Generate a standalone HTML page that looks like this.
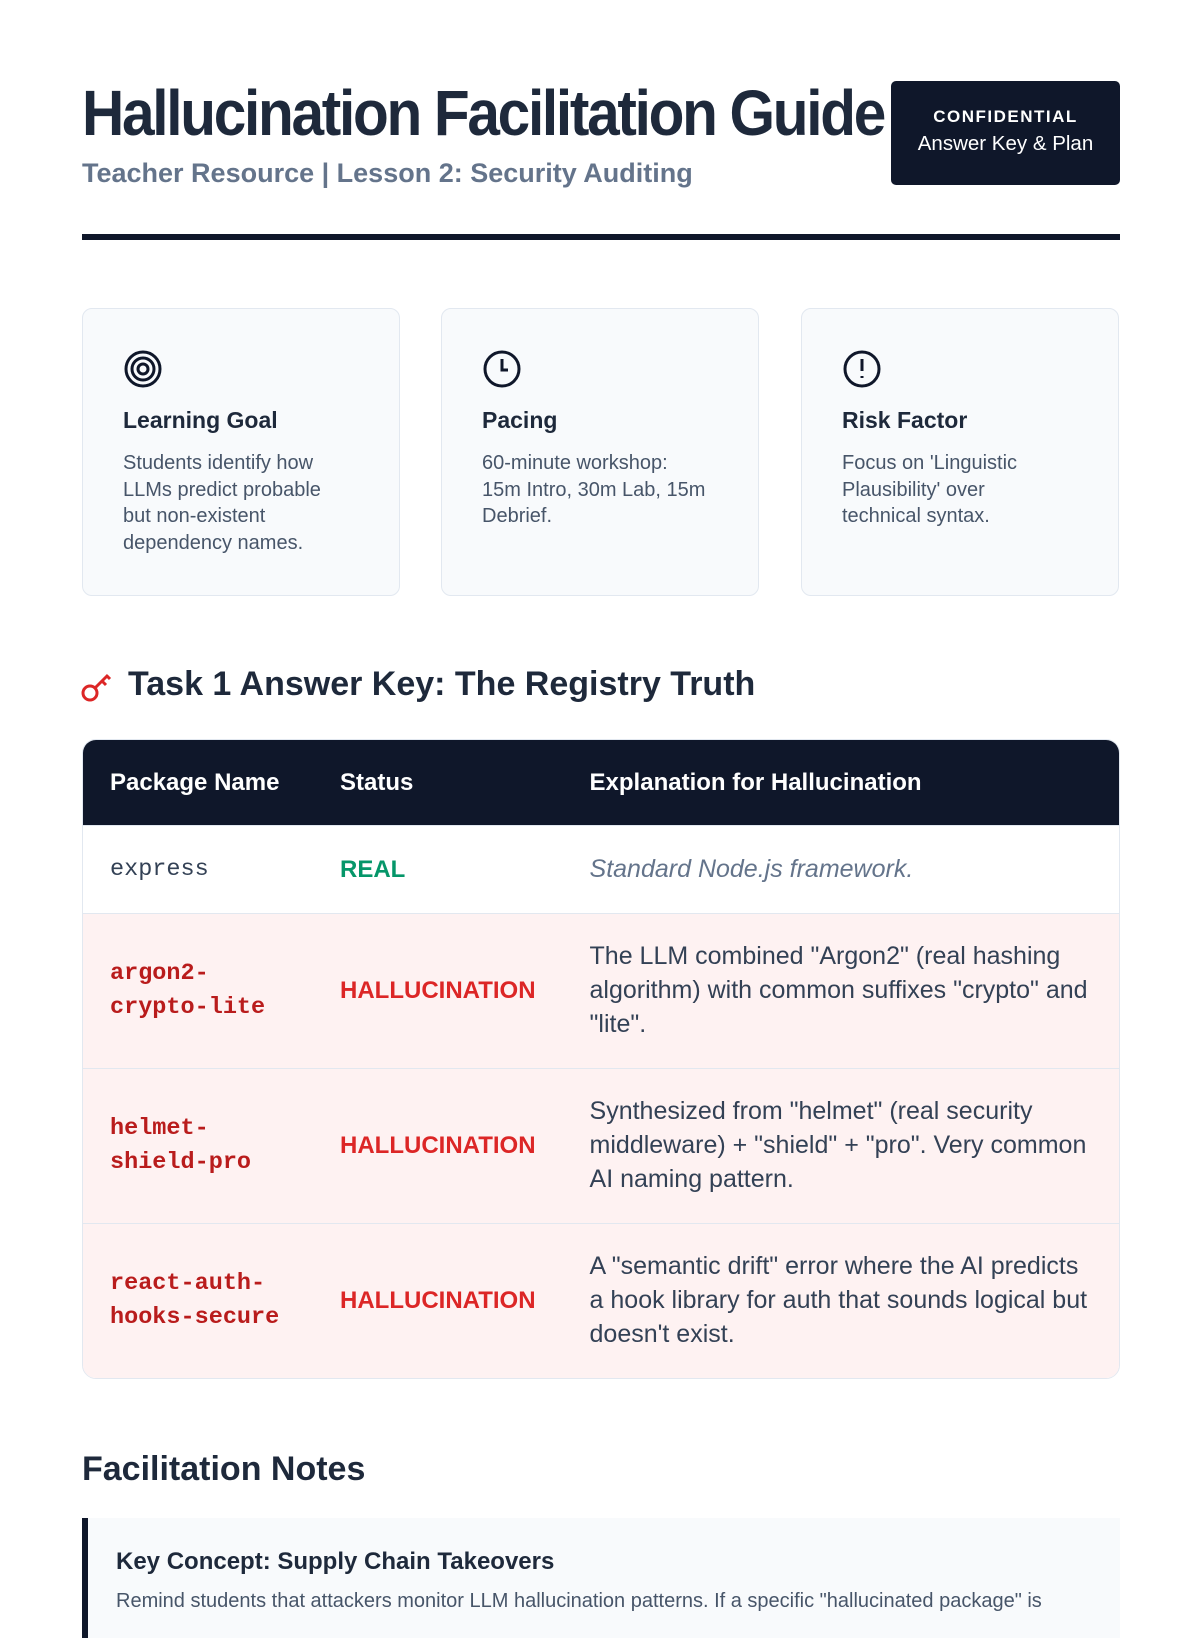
<!DOCTYPE html>
<html><head><meta charset="utf-8"><style>
*{margin:0;padding:0;box-sizing:border-box}
html,body{width:1200px;height:1600px;overflow:hidden;background:#fff;font-family:"Liberation Sans",sans-serif;color:#1e293b}
.abs{position:absolute}
.title{left:82px;top:76px;font-size:64px;font-weight:bold;color:#1e293b;letter-spacing:-2.5px;white-space:nowrap;transform:scaleX(0.915);transform-origin:left top}
.sub{left:82px;top:158px;font-size:27px;font-weight:bold;color:#64748b;white-space:nowrap}
.badge{left:891px;top:81px;width:229px;height:104px;background:#0f172a;border-radius:5px;color:#fff;text-align:center;padding-top:26px}
.badge b{display:block;font-size:17px;letter-spacing:1.5px}
.badge span{display:block;font-size:20.5px;margin-top:5px}
.rule{left:82px;top:234px;width:1038px;height:6px;background:#0f172a}
.card{top:308px;width:318px;height:288px;background:#f8fafc;border:1px solid #e2e8f0;border-radius:10px;padding:40px 56px 40px 40px}
.card svg{display:block;margin-bottom:18px}
.card h3{font-size:23px;font-weight:bold;color:#1e293b;margin-bottom:16px}
.card p{font-size:20px;line-height:26.5px;color:#475569}
.h2{left:82px;top:665px;font-size:34px;font-weight:bold;color:#1e293b;white-space:nowrap}
table{position:absolute;left:82px;top:739px;width:1038px;border-collapse:separate;border-spacing:0;border:1px solid #e2e8f0;border-radius:14px;overflow:hidden}
th{background:#0f172a;color:#fff;font-size:24px;text-align:left;height:85px;padding:0 27px}
td{padding:0 27px;font-size:25px;line-height:33.7px;color:#334155;border-top:1px solid #e2e8f0;vertical-align:middle}
tr.r td{background:#fef2f2}
.mono{font-family:"Liberation Mono",monospace;font-size:23.5px;line-height:34px}
.pk{color:#b91c1c;font-weight:bold}
.hal{color:#dc2626;font-weight:bold;font-size:24px}
.real{color:#059669;font-weight:bold;font-size:24px}
.it{font-style:italic;color:#64748b}
.h2b{left:82px;top:1450px;font-size:34px;font-weight:bold;color:#1e293b}
.note{left:82px;top:1518px;width:1038px;height:120px;background:#f8fafc;border-left:6px solid #0f172a;padding:30px 28px}
.note h4{font-size:24px;font-weight:bold;color:#1e293b;margin-bottom:14px}
.note p{font-size:20px;color:#475569;white-space:nowrap}
</style></head><body>
<div class="abs title">Hallucination Facilitation Guide</div>
<div class="abs sub">Teacher Resource | Lesson 2: Security Auditing</div>
<div class="abs badge"><b>CONFIDENTIAL</b><span>Answer Key &amp; Plan</span></div>
<div class="abs rule"></div>

<div class="abs card" style="left:82px">
<svg width="40" height="40" viewBox="0 0 40 40" fill="none" stroke="#0f172a" stroke-width="3"><circle cx="20" cy="20" r="17"/><circle cx="20" cy="20" r="11"/><circle cx="20" cy="20" r="5"/></svg>
<h3>Learning Goal</h3><p>Students identify how LLMs predict probable but non-existent dependency names.</p></div>
<div class="abs card" style="left:441px;padding-right:30px">
<svg width="40" height="40" viewBox="0 0 40 40" fill="none" stroke="#0f172a" stroke-width="3"><circle cx="20" cy="20" r="17"/><path d="M20 10v11h6"/></svg>
<h3>Pacing</h3><p>60-minute workshop:<br>15m Intro, 30m Lab, 15m Debrief.</p></div>
<div class="abs card" style="left:801px">
<svg width="40" height="40" viewBox="0 0 40 40" fill="none" stroke="#0f172a" stroke-width="3"><circle cx="20" cy="20" r="17"/><path d="M20 10v12M20 27v2"/></svg>
<h3>Risk Factor</h3><p>Focus on 'Linguistic Plausibility' over technical syntax.</p></div>

<svg class="abs" style="left:80px;top:670px" width="34" height="34" viewBox="0 0 34 34" fill="none" stroke="#dc2626" stroke-width="3"><circle cx="10" cy="23" r="7"/><path d="M15 18l13-13M22 11l4 4M27 6l3 3"/></svg>
<div class="abs h2" style="left:128px">Task 1 Answer Key: The Registry Truth</div>

<table>
<tr><th style="width:230px">Package Name</th><th style="width:247px">Status</th><th>Explanation for Hallucination</th></tr>
<tr style="height:88px"><td class="mono">express</td><td class="real">REAL</td><td class="it">Standard Node.js framework.</td></tr>
<tr class="r" style="height:155px"><td class="mono pk">argon2-<br>crypto-lite</td><td class="hal">HALLUCINATION</td><td>The LLM combined "Argon2" (real hashing algorithm) with common suffixes "crypto" and "lite".</td></tr>
<tr class="r" style="height:155px"><td class="mono pk">helmet-<br>shield-pro</td><td class="hal">HALLUCINATION</td><td>Synthesized from "helmet" (real security middleware) + "shield" + "pro". Very common AI naming pattern.</td></tr>
<tr class="r" style="height:155px"><td class="mono pk">react-auth-<br>hooks-secure</td><td class="hal">HALLUCINATION</td><td>A "semantic drift" error where the AI predicts a hook library for auth that sounds logical but doesn't exist.</td></tr>
</table>

<div class="abs h2b">Facilitation Notes</div>
<div class="abs note"><h4>Key Concept: Supply Chain Takeovers</h4><p>Remind students that attackers monitor LLM hallucination patterns. If a specific "hallucinated package" is</p></div>
</body></html>
